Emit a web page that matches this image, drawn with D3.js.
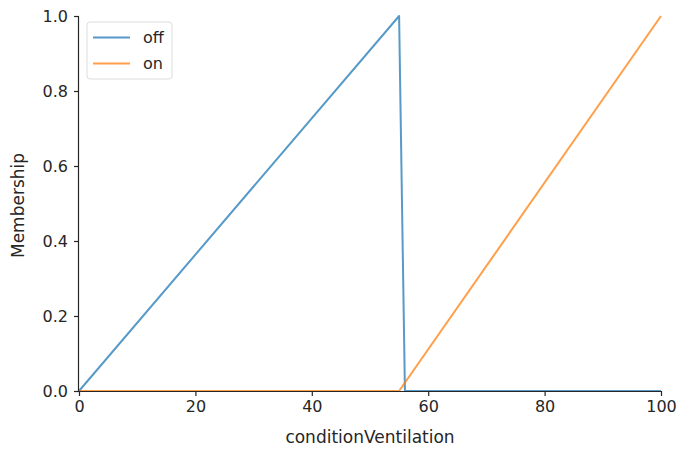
<!DOCTYPE html>
<html>
<head>
<meta charset="utf-8">
<script src="https://cdn.jsdelivr.net/npm/d3@7"></script>
<style>
    body { margin: 0; background: #fff; }
    svg text { font-family: "DejaVu Sans", sans-serif; fill: #262626; }
    .axis path, .axis line { stroke: #262626; }
</style>
</head>
<body>
<div id="chart"></div>
<script>
// membership functions, breakpoints
const offX = [0, 55, 56, 100];
const offY = [0, 1, 0, 0];
const onX = [0, 55, 100];
const onY = [0, 0, 1];
const seriesNames = ["off", "on"];
const xTicks = [0, 20, 40, 60, 80, 100];
const yTicks = [0, 0.2, 0.4, 0.6, 0.8, 1.0];

let margin = {top: 16, right: 19, bottom: 60, left: 79};
let width = 680 - margin.left - margin.right;
let height = 451 - margin.top - margin.bottom;

let svg = d3.select("#chart").append("svg")
    .attr("width", 680)
    .attr("height", 451)
    .append("g")
    .attr("transform", "translate(" + margin.left + "," + margin.top + ")");

let x = d3.scaleLinear().domain([0, 100]).range([0, width]);
let y = d3.scaleLinear().domain([0, 1]).range([height, 0]);

let colors = d3.scaleOrdinal().domain(seriesNames).range(["#1f77b4", "#ff7f0e"]);

let series = [
    {name: "off", pts: offX.map((d, i) => [d, offY[i]])},
    {name: "on", pts: onX.map((d, i) => [d, onY[i]])}
];

let line = d3.line().x(d => x(d[0])).y(d => y(d[1]));

svg.selectAll(".series")
    .data(series)
    .enter().append("path")
    .attr("class", "series")
    .attr("d", d => line(d.pts))
    .attr("fill", "none")
    .attr("stroke", d => colors(d.name))
    .attr("stroke-width", 2)
    .attr("stroke-opacity", 0.75)
    .attr("stroke-linejoin", "round");

// axes, only left and bottom spines
let xAxis = d3.axisBottom(x).tickValues(xTicks).tickFormat(d3.format("d")).tickSize(5).tickPadding(5);
let yAxis = d3.axisLeft(y).tickValues(yTicks).tickFormat(d3.format(".1f")).tickSize(5).tickPadding(6);

svg.append("g")
    .attr("class", "x-axis axis")
    .attr("transform", "translate(0," + height + ")")
    .call(xAxis)
    .call(g => g.select(".domain").attr("d", "M0.5,0.5H" + width))
    .selectAll("text").attr("font-size", 16);

svg.append("g")
    .attr("class", "y-axis axis")
    .call(yAxis)
    .call(g => g.select(".domain").attr("d", "M-0.5,0.5V" + height))
    .selectAll("text").attr("font-size", 16);

svg.selectAll(".axis path, .axis line").attr("stroke-width", 1.2);

svg.append("text")
    .attr("x", width / 2)
    .attr("y", height + 52)
    .attr("text-anchor", "middle")
    .attr("font-size", 17)
    .text("conditionVentilation");

svg.append("text")
    .attr("transform", `translate(-55,${height / 2 + 2}) rotate(-90)`)
    .attr("text-anchor", "middle")
    .attr("font-size", 17)
    .text("Membership");

// legend
let legend = svg.append("g").attr("transform", "translate(8,6)");
legend.append("rect")
    .attr("width", 85)
    .attr("height", 57)
    .attr("rx", 3)
    .attr("fill", "#fff")
    .attr("fill-opacity", 0.8)
    .attr("stroke", "#dcdcdc");

seriesNames.forEach((d, i) => {
    legend.append("line")
        .attr("x1", 6).attr("x2", 43)
        .attr("y1", 15.5 + 26 * i).attr("y2", 15.5 + 26 * i)
        .attr("stroke", colors(d))
        .attr("stroke-opacity", 0.75)
        .attr("stroke-width", 2);
    legend.append("text")
        .attr("x", 56)
        .attr("y", 21 + 26 * i)
        .attr("font-size", 16)
        .text(d);
});
</script>
</body>
</html>
